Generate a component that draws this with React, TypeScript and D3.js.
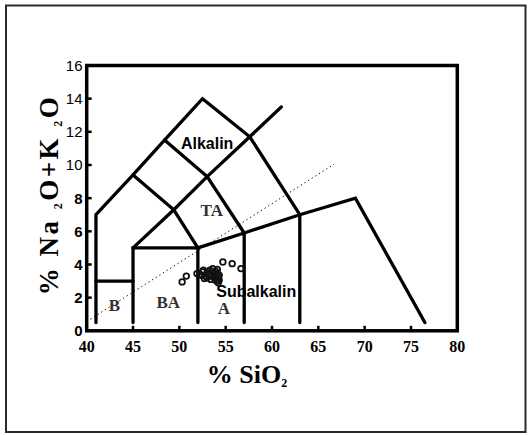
import React from "react";
import * as d3 from "d3";

const xTicks = [40, 45, 50, 55, 60, 65, 70, 75, 80];
const yTicks = [0, 2, 4, 6, 8, 10, 12, 14, 16];
const yBoldFrom = 8;

// TAS field boundaries (SiO2, Na2O+K2O)
const outerBoundary: [number, number][] = [[41, 0.5], [41, 7], [45, 9.4], [48.4, 11.5], [52.5, 14], [57.6, 11.7], [63, 7], [63, 0.5]];
const basaltTop: [number, number][] = [[41, 3], [45, 3]];
const basAndesite: [number, number][] = [[45, 0.5], [45, 5], [52, 5], [52, 0.5]];
const lowerRight: [number, number][] = [[52, 5], [57, 5.9], [63, 7], [69, 8], [76.5, 0.5]];
const andesiteRight: [number, number][] = [[57, 0.5], [57, 5.9]];
const diagonal: [number, number][] = [[45, 5], [49.4, 7.3], [53, 9.3], [57.6, 11.7], [61, 13.5]];
const divide1: [number, number][] = [[45, 9.4], [49.4, 7.3], [52, 5]];
const divide2: [number, number][] = [[48.4, 11.5], [53, 9.3], [57, 5.9]];
const alkDivide: [number, number][] = [[40.4, 0.7], [66.7, 10.05]];

const sio2 = [50.3, 50.75, 51.9, 52.2, 52.4, 52.6, 52.8, 53.0, 53.3, 53.5, 53.7, 53.9, 54.1, 54.2, 54.0, 54.3, 53.8, 53.4, 53.0, 52.7, 54.1, 53.6, 54.3, 53.2, 53.9, 54.2, 52.5, 54.7, 55.7, 56.65];
const alkali = [2.95, 3.3, 3.45, 3.4, 3.35, 3.65, 3.3, 3.5, 3.65, 3.3, 3.5, 3.6, 3.45, 3.2, 3.0, 3.05, 3.15, 3.1, 3.2, 3.15, 3.7, 3.75, 3.35, 3.4, 3.35, 2.9, 3.55, 4.15, 4.05, 3.75];

const fieldLabels = [
  { text: "B", x: 43, y: 1.2 },
  { text: "BA", x: 48.8, y: 1.4 },
  { text: "A", x: 54.8, y: 1.0 },
  { text: "TA", x: 53.5, y: 6.9 },
];

export default function App() {
  const x = d3.scaleLinear().domain([40, 80]).range([86.7, 457.3]);
  const y = d3.scaleLinear().domain([0, 16]).range([330.8, 65.5]);
  const line = d3.line<[number, number]>().x((d) => x(d[0])).y((d) => y(d[1]));
  const polylines = [outerBoundary, basaltTop, basAndesite, lowerRight, andesiteRight, diagonal, divide1, divide2];

  return (
    <svg width={531} height={435} style={{ position: "absolute", left: 0, top: 0, background: "#fff" }}>
      <rect x={6} y={5.5} width={519.5} height={426.5} fill="#fff" stroke="#2a2a2a" strokeWidth={2} />
      {/* ticks */}
      {xTicks.slice(1, -1).map((t) => (
        <line key={"xt" + t} x1={x(t)} x2={x(t)} y1={y(0)} y2={y(0) - 5} stroke="#000" strokeWidth={2.5} />
      ))}
      {yTicks.slice(1, -1).map((t) => (
        <line key={"yt" + t} x1={x(40)} x2={x(40) + 5} y1={y(t)} y2={y(t)} stroke="#000" strokeWidth={2.5} />
      ))}
      {/* dotted divide */}
      <path d={line(alkDivide) || ""} fill="none" stroke="#000" strokeWidth={1} strokeDasharray="1.3,3" />
      {polylines.map((p, i) => (
        <path key={i} d={line(p) || ""} fill="none" stroke="#000" strokeWidth={3.3} strokeLinejoin="miter" strokeLinecap="round" />
      ))}
      {/* frame */}
      <rect x={x(40)} y={y(16)} width={x(80) - x(40)} height={y(0) - y(16)} fill="none" stroke="#000" strokeWidth={3.5} />
      {/* points */}
      {sio2.map((s, i) => (
        <circle key={"p" + i} cx={x(s)} cy={y(alkali[i])} r={2.8} fill="none" stroke="#111" strokeWidth={1.8} />
      ))}
      {/* field labels */}
      {fieldLabels.map((l) => (
        <text key={l.text} x={x(l.x)} y={y(l.y)} textAnchor="middle" fontFamily="Liberation Serif, Times New Roman, serif" fontWeight="bold" fontSize={17} fill="#333">
          {l.text}
        </text>
      ))}
      <text x={x(53)} y={y(10.95)} textAnchor="middle" fontFamily="Liberation Sans, Arial, sans-serif" fontWeight="bold" fontSize={16} fill="#000">
        Alkalin
      </text>
      <text x={x(58.3)} y={y(2.05)} textAnchor="middle" fontFamily="Liberation Sans, Arial, sans-serif" fontWeight="bold" fontSize={16} fill="#000">
        Subalkalin
      </text>
      {/* tick labels */}
      {yTicks.map((t) => (
        <text key={"yl" + t} x={82.5} y={y(t) + 5.5} textAnchor="end" fontFamily="Liberation Sans, Arial, sans-serif" fontWeight={t <= yBoldFrom ? "bold" : "normal"} fontSize={15} fill="#000">
          {t}
        </text>
      ))}
      {xTicks.map((t) => (
        <text key={"xl" + t} x={x(t)} y={352} textAnchor="middle" fontFamily="Liberation Serif, Times New Roman, serif" fontWeight="bold" fontSize={16} fill="#000">
          {t}
        </text>
      ))}
      {/* axis titles */}
      <text x={247} y={383} textAnchor="middle" fontFamily="Liberation Serif, Times New Roman, serif" fontWeight="bold" fontSize={26} fill="#000">
        % SiO<tspan fontSize={12} dy={4}>2</tspan>
      </text>
      <text transform="translate(58,195) rotate(-90)" textAnchor="middle" fontFamily="Liberation Serif, Times New Roman, serif" fontWeight="bold" fontSize={27} letterSpacing={2.5} fill="#000">
        % Na <tspan fontSize={12} dy={4}>2</tspan><tspan dy={-4}>O+K </tspan><tspan fontSize={12} dy={4}>2</tspan><tspan dy={-4}>O</tspan>
      </text>
    </svg>
  );
}
